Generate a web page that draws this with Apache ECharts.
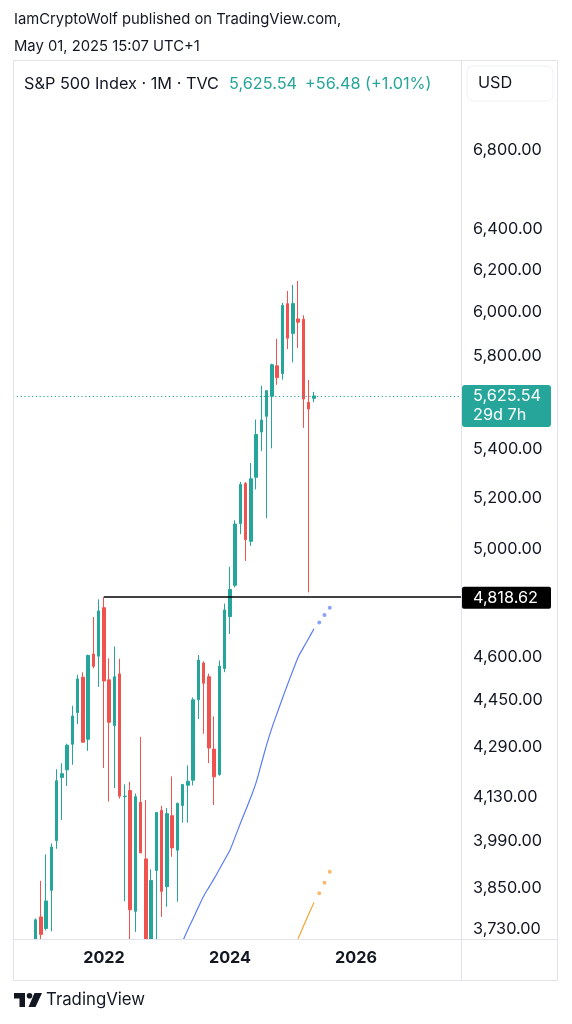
<!DOCTYPE html>
<html><head><meta charset="utf-8">
<script src="https://cdn.jsdelivr.net/npm/echarts@6/dist/echarts.min.js"></script>
<style>html,body{margin:0;padding:0;background:#fff}#c{width:572px;height:1024px}</style>
</head><body><div id="c"></div>
<script>
// ---- data ----
const months = ['2020-08','2020-09','2020-10','2020-11','2020-12',
 '2021-01','2021-02','2021-03','2021-04','2021-05','2021-06','2021-07','2021-08','2021-09','2021-10','2021-11','2021-12',
 '2022-01','2022-02','2022-03','2022-04','2022-05','2022-06','2022-07','2022-08','2022-09','2022-10','2022-11','2022-12',
 '2023-01','2023-02','2023-03','2023-04','2023-05','2023-06','2023-07','2023-08','2023-09','2023-10','2023-11','2023-12',
 '2024-01','2024-02','2024-03','2024-04','2024-05','2024-06','2024-07','2024-08','2024-09','2024-10','2024-11','2024-12',
 '2025-01','2025-02','2025-03','2025-04','2025-05'];
const opens = [3288.3,3507.4,3385.9,3296.2,3645.9,
 3764.6,3731.2,3842.5,3992.8,4192.0,4216.5,4300.7,4406.9,4528.8,4317.2,4610.6,4602.8,
 4778.1,4519.6,4363.1,4540.3,4130.6,4149.8,3781.0,4112.4,3936.7,3609.8,3901.8,4087.1,
 3853.3,4070.1,3963.3,4102.2,4166.8,4183.0,4450.5,4578.8,4530.6,4284.5,4201.3,4559.4,
 4745.2,4861.1,5098.5,5258.0,5029.0,5283.4,5471.1,5537.8,5623.9,5757.7,5723.2,6040.1,
 5903.3,5969.7,5968.3,5597.5,5615.0];
const closes = [3500.3,3363.0,3270.0,3621.6,3756.1,
 3714.2,3811.2,3972.9,4181.2,4204.1,4297.5,4395.3,4522.7,4307.5,4605.4,4567.0,4766.2,
 4515.6,4373.9,4530.4,4131.9,4132.2,3785.4,4130.3,3955.0,3585.6,3872.0,4080.1,3839.5,
 4076.6,3970.2,4109.3,4169.5,4179.8,4450.4,4589.0,4507.7,4288.1,4193.8,4567.8,4769.8,
 4845.7,5096.3,5254.4,5035.7,5277.5,5460.5,5522.3,5648.4,5762.5,5705.5,6032.4,5881.6,
 6040.5,5954.5,5611.9,5569.1,5625.54];
const lows = [3284.5,3209.5,3233.9,3279.7,3633.4,
 3662.7,3725.6,3723.3,3967.7,4056.9,4164.4,4233.1,4367.7,4305.9,4278.9,4560.0,4495.1,
 4222.6,4114.7,4157.9,4124.3,3810.3,3636.9,3721.6,3954.5,3584.1,3491.6,3698.2,3764.5,
 3794.3,3943.1,3808.9,4048.3,4048.3,4166.2,4385.1,4335.3,4238.6,4103.8,4197.7,4546.5,
 4682.1,4853.5,5056.8,4953.6,5011.1,5234.3,5391.0,5119.3,5402.6,5674.0,5696.5,5832.3,
 5773.3,5837.7,5488.7,4835.0,5598.0];
const highs = [3514.8,3588.1,3549.9,3645.9,3760.2,
 3870.9,3950.4,3983.9,4218.8,4238.0,4302.4,4430.0,4537.4,4545.9,4608.1,4743.8,4808.9,
 4818.62,4595.3,4637.3,4593.5,4169.8,4177.5,4140.2,4325.3,4119.3,3905.4,4080.1,4101.0,
 4094.2,4195.4,4110.8,4170.1,4231.1,4458.5,4607.1,4584.6,4541.3,4393.6,4587.6,4793.3,
 4931.1,5111.1,5264.9,5264.0,5341.9,5523.6,5669.7,5651.6,5767.4,5878.5,6044.2,6100.0,
 6128.2,6147.4,5986.1,5695.3,5643.0];

const blueMonths = ['2023-04','2023-05','2023-06','2023-07','2023-08','2023-09','2023-10','2023-11','2023-12',
 '2024-01','2024-02','2024-03','2024-04','2024-05','2024-06','2024-07','2024-08','2024-09','2024-10','2024-11','2024-12',
 '2025-01','2025-02','2025-03','2025-04','2025-05'];
const blueValues = [3695,3729,3761,3794,3826,3852,3878,3906,3935,
 3964,4005,4047,4088,4130,4177,4238,4300,4356,4406,4456,4505,
 4553,4600,4634,4667,4701];
const blueDotMonths = ['2025-06','2025-07','2025-08'];
const blueDotValues = [4724,4751,4778];
const orangeMonths = ['2025-01','2025-02','2025-03','2025-04','2025-05'];
const orangeValues = [3670,3703,3738,3773,3807];
const orangeDotMonths = ['2025-06','2025-07','2025-08'];
const orangeDotValues = [3834,3865,3898];

const priceTicks = [6800,6400,6200,6000,5800,5400,5200,5000,4600,4450,4290,4130,3990,3850,3730];
const yearTicks = ['2022','2024','2026'];
const keyLevel = 4818.62;
const keyLevelStart = '2022-01';
const lastPrice = 5625.54;
const lastChange = '+56.48 (+1.01%)';
const countdown = '29d 7h';

// ---- helpers ----
const BASE = 2022*12; // Jan 2022 -> 0
function mIdx(s){ const [y,m]=s.split('-').map(Number); return y*12+(m-1)-BASE; }
function fmt(v){ return Number(v).toLocaleString('en-US',{minimumFractionDigits:2,maximumFractionDigits:2}); }

const candleData = months.map((m,i)=>[mIdx(m),opens[i],closes[i],lows[i],highs[i]]);
const blueData = blueMonths.map((m,i)=>[mIdx(m),blueValues[i]]);
const blueDots = blueDotMonths.map((m,i)=>[mIdx(m),blueDotValues[i]]);
const orangeData = orangeMonths.map((m,i)=>[mIdx(m),orangeValues[i]]);
const orangeDots = orangeDotMonths.map((m,i)=>[mIdx(m),orangeDotValues[i]]);
const xTickVals = yearTicks.map(y=>mIdx(y+'-01'));

const X_MIN = -17.3333, X_MAX = 68;
const Y_MIN = 3701.0, Y_MAX = 7288.6;

const UP = '#26a69a', DOWN = '#ef5350', TXT = '#131722', FRAME = '#e0e3eb';
const FONT = 'Inter';
const TAG = 'path://M3,0H86Q89,0 89,3V39Q89,42 86,42H3Q0,42 0,39V3Q0,0 3,0Z';
const TAG2 = 'path://M2,0H87Q89,0 89,2V20Q89,22 87,22H2Q0,22 0,20V2Q0,0 2,0Z';

const chart = echarts.init(document.getElementById('c'), null, {renderer:'canvas'});
chart.setOption({
  animation:false,
  backgroundColor:'#fff',
  textStyle:{fontFamily:FONT},
  grid:{left:13, right:111, top:60, bottom:85, show:false, outerBoundsMode:'none'},
  xAxis:{type:'value', min:X_MIN, max:X_MAX, z:7,
    axisLine:{show:false}, axisTick:{show:false}, splitLine:{show:false},
    axisLabel:{customValues:xTickVals, formatter:v=>String(2022+Math.round(v)/12),
      color:TXT, fontWeight:'bold', fontSize:16.2, margin:11, fontFamily:FONT}},
  yAxis:{type:'log', position:'right', min:Y_MIN, max:Y_MAX,
    axisLine:{show:false}, axisTick:{show:false}, splitLine:{show:false},
    axisLabel:{customValues:priceTicks, formatter:v=>fmt(v), color:TXT, fontSize:16.3, margin:12, fontFamily:FONT}},
  series:[
    {type:'candlestick', data:candleData, encode:{x:0,y:[1,2,3,4]}, barWidth:3,
      itemStyle:{color:UP, color0:DOWN, borderColor:UP, borderColor0:DOWN, borderWidth:1},
      markLine:{silent:true, symbol:'none', animation:false,
        data:[
          {yAxis:lastPrice, lineStyle:{color:UP, type:[1.2,2.6], width:1}, label:{show:false}},
          [{coord:[mIdx(keyLevelStart),keyLevel]},{coord:[X_MAX,keyLevel]}]
        ],
        lineStyle:{color:'#000', width:1.5, type:'solid'}, label:{show:false}},
      markPoint:{silent:true, animation:false,
        data:[
          {coord:[X_MAX,lastPrice], symbol:TAG, symbolSize:[89,42], symbolOffset:[45.5,10],
            itemStyle:{color:UP},
            label:{show:true, position:'insideLeft', distance:11, color:'#fff', fontSize:16.3, lineHeight:19,
              fontFamily:FONT, formatter:fmt(lastPrice)+'\n'+countdown}},
          {coord:[X_MAX,keyLevel], symbol:TAG2, symbolSize:[89,22], symbolOffset:[45.5,1],
            itemStyle:{color:'#000'},
            label:{show:true, position:'insideLeft', distance:11, color:'#fff', fontSize:16.3,
              fontFamily:FONT, formatter:fmt(keyLevel)}}
        ]}
    },
    {type:'line', data:blueData, symbol:'none', smooth:0.4, lineStyle:{color:'#5b7cf7', width:1.2}, clip:true, z:3},
    {type:'scatter', data:blueDots, symbolSize:4, itemStyle:{color:'#6f8cf7'}, z:3},
    {type:'line', data:orangeData, symbol:'none', smooth:0.3, lineStyle:{color:'#f7a534', width:1.2}, clip:true, z:3},
    {type:'scatter', data:orangeDots, symbolSize:4, itemStyle:{color:'#f7a94a'}, z:3}
  ],
  graphic:[
    {type:'rect', z:5, shape:{x:0,y:940,width:572,height:84}, style:{fill:'#fff'}},
    {type:'rect', z:6, shape:{x:13.5,y:60.5,width:544,height:920}, style:{fill:'none', stroke:FRAME, lineWidth:1}},
    {type:'line', z:6, shape:{x1:461.5,y1:60.5,x2:461.5,y2:980.5}, style:{stroke:FRAME, lineWidth:1}},
    {type:'line', z:6, shape:{x1:13.5,y1:939.5,x2:557.5,y2:939.5}, style:{stroke:FRAME, lineWidth:1}},
    {type:'text', z:6, x:14, y:20, style:{text:'IamCryptoWolf published on TradingView.com,', fill:TXT, font:'14.8px '+FONT, verticalAlign:'middle'}},
    {type:'text', z:6, x:14, y:47, style:{text:'May 01, 2025 15:07 UTC+1', fill:TXT, font:'14.8px '+FONT, verticalAlign:'middle'}},
    {type:'text', z:6, x:24, y:84, style:{text:'S&P 500 Index · 1M · TVC', fill:TXT, font:'16.3px '+FONT, verticalAlign:'middle'}},
    {type:'text', z:6, x:229, y:84, style:{text:fmt(lastPrice), fill:UP, font:'16.3px '+FONT, verticalAlign:'middle'}},
    {type:'text', z:6, x:305, y:84, style:{text:lastChange, fill:UP, font:'16.3px '+FONT, verticalAlign:'middle'}},
    {type:'rect', z:6, shape:{x:467,y:66,width:86,height:35,r:6}, style:{fill:'#fff', stroke:'#eef0f4', lineWidth:1}},
    {type:'text', z:7, x:478, y:83.5, style:{text:'USD', fill:TXT, font:'16.3px '+FONT, verticalAlign:'middle'}},
    {type:'polygon', z:6, shape:{points:[[14,993],[25,993],[25,1007],[19.5,1007],[19.5,998.5],[14,998.5]]}, style:{fill:TXT}},
    {type:'circle', z:6, shape:{cx:29.5,cy:995.8,r:2.8}, style:{fill:TXT}},
    {type:'polygon', z:6, shape:{points:[[34.5,993],[42,993],[35.5,1007],[28.5,1007]]}, style:{fill:TXT}},
    {type:'text', z:6, x:46, y:1000, style:{text:'TradingView', fill:TXT, font:'16.8px '+FONT, verticalAlign:'middle'}}
  ]
});
</script></body></html>
